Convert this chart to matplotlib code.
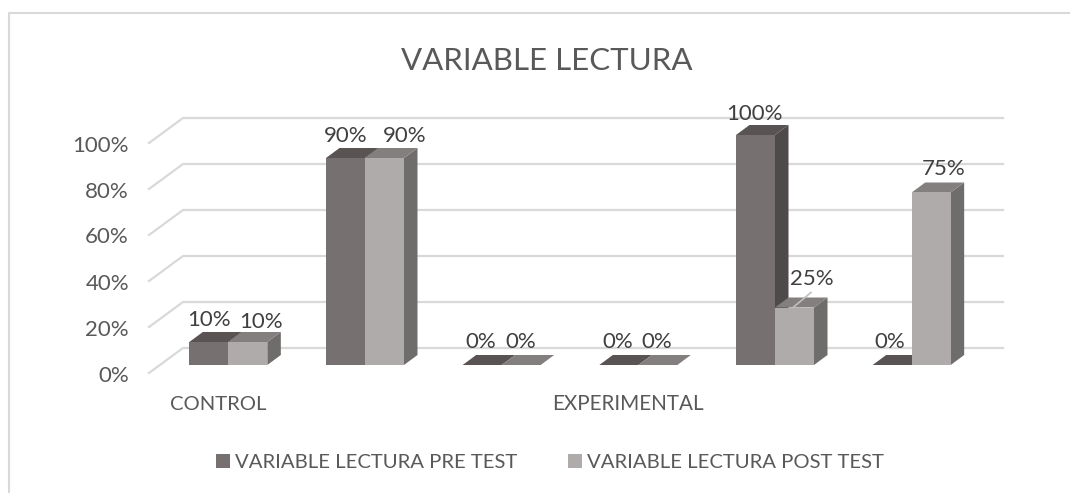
import matplotlib
matplotlib.use("Agg")
import matplotlib.pyplot as plt
from matplotlib.patches import Polygon, Rectangle

# --- data ---
title = "VARIABLE LECTURA"
y_ticks = [0, 20, 40, 60, 80, 100]
series_names = ["VARIABLE LECTURA PRE TEST", "VARIABLE LECTURA POST TEST"]
pre_test = [10, 90, 0, 0, 100, 0]
post_test = [10, 90, 0, 0, 25, 75]
group_labels = ["CONTROL", "EXPERIMENTAL"]

W, H = 1070, 493
plt.rcParams['font.family'] = ['Lato', 'DejaVu Sans']
fig = plt.figure(figsize=(W / 100, H / 100), dpi=100, facecolor="white")

AX_L, AX_R, AX_T, AX_B = 160, 980, 135, 365
ax = fig.add_axes([AX_L / W, 1 - AX_B / H, (AX_R - AX_L) / W, (AX_B - AX_T) / H])
ax.set_xlim(-0.5, 5.5)
ax.set_ylim(0, 100)
ax.axis("off")

PX = 6 / (AX_R - AX_L)      # data units per pixel, x
PY = 100 / (AX_B - AX_T)    # data units per pixel, y
BAR_W = 39 * PX
DX, DY = 13.5 * PX, 10 * PY
GRID = "#D9D9D9"
TXT = "#595959"
LBL = "#404040"

C_PRE = dict(front="#767170", top="#595453", side="#4E4A49")
C_POST = dict(front="#AFABAB", top="#837F7E", side="#6F6C6C")

# gridlines on wall and floor
WX, WY = 23 * PX, 17 * PY
FX, FY = -11 * PX, -8 * PY
x_end = -0.5 + (1003 - AX_L) * PX
for t in y_ticks:
    ax.plot([-0.5 + FX, -0.5 + WX, x_end], [t + FY, t + WY, t + WY],
            color=GRID, lw=1.6, clip_on=False, zorder=1, solid_joinstyle="miter")
    ax.text(-0.5 - 31 * PX, t - 10.5 * PY, f"{t}%", ha="right", va="center",
            fontsize=16, color=TXT, clip_on=False)


def bar3d(x, v, c, z):
    ax.add_patch(Polygon([(x + BAR_W, 0), (x + BAR_W + DX, DY), (x + BAR_W + DX, v + DY), (x + BAR_W, v)],
                         fc=c["side"], ec="none", zorder=z, clip_on=False))
    ax.add_patch(Polygon([(x, v), (x + DX, v + DY), (x + BAR_W + DX, v + DY), (x + BAR_W, v)],
                         fc=c["top"], ec="none", zorder=z + 0.1, clip_on=False))
    ax.add_patch(Rectangle((x, 0), BAR_W, v, fc=c["front"], ec="none", zorder=z + 0.2, clip_on=False))


# label nudges in pixels (series, category): (dx, dy above the bar's front top)
label_offset = {
    (0, 0): (0, 22.5), (1, 0): (13, 20.5),
    (0, 1): (0, 21.5), (1, 1): (20.5, 21.5),
    (0, 2): (-1.5, 22.5), (1, 2): (0, 22.5),
    (0, 3): (-1, 22.5), (1, 3): (-1, 22.5),
    (0, 4): (-1.5, 21.5), (1, 4): (17, 28.5),
    (0, 5): (-2.5, 22.5), (1, 5): (12.5, 23.5),
}
for i, (a, b) in enumerate(zip(pre_test, post_test)):
    bar3d(i - BAR_W, a, C_PRE, 2)
    bar3d(i, b, C_POST, 3)
    for s, (x0, v) in enumerate([(i - BAR_W, a), (i, b)]):
        dx, dy = label_offset[(s, i)]
        ax.text(x0 + BAR_W / 2 + dx * PX, v + dy * PY, f"{v}%", ha="center", va="center",
                fontsize=16, color=LBL, zorder=6, clip_on=False)

# leader line for the 25 % label
ax.plot([4 + 18 * PX, 4 + 36 * PX], [post_test[4], post_test[4] + 15 * PY], color="#BFBFBF", lw=1.2, zorder=5)

# group labels
ax.text(0 - 10 * PX, -38 * PY - 1.5 * PY, group_labels[0], ha="center", va="center", fontsize=14.6, color=TXT, clip_on=False)
ax.text(3.0 - 10.5 * PX, -38 * PY - 1.5 * PY, group_labels[1], ha="center", va="center", fontsize=14.9, color=TXT, clip_on=False)

# title
fig.text(546.5 / W, 1 - 61 / H, title, ha="center", va="center", fontsize=22.5, color=TXT)

# legend
for x, col, name in [(216, C_PRE["front"], series_names[0]), (568, C_POST["front"], series_names[1])]:
    fig.add_artist(Rectangle((x / W, 1 - 468 / H), 14 / W, 14 / H, fc=col, ec="none", transform=fig.transFigure))
    fig.text((x + 19) / W, 1 - 462 / H, name, ha="left", va="center", fontsize=14.6, color=TXT)

# frame
fig.add_artist(plt.Line2D([9 / W, 9 / W, 1], [0, 1 - 12.5 / H, 1 - 12.5 / H], color=GRID, lw=1.5))

fig.savefig("out.png", dpi=100)
